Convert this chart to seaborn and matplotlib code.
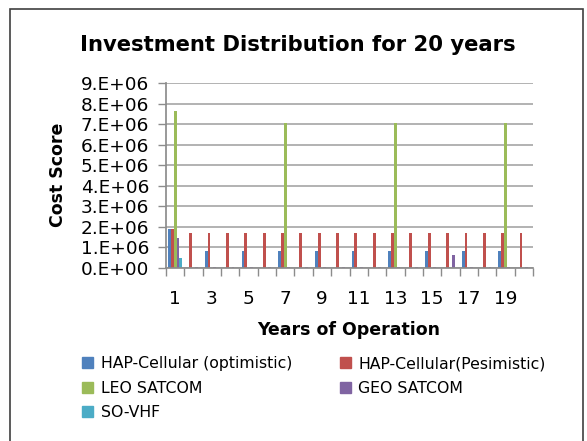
import matplotlib
matplotlib.use("Agg")
import matplotlib.pyplot as plt
import matplotlib.patches as mpatches
from matplotlib.ticker import FixedLocator, FuncFormatter
import seaborn as sns
import pandas as pd

years = list(range(1, 21))
series_names = ["HAP-Cellular (optimistic)", "HAP-Cellular(Pesimistic)",
                "LEO SATCOM", "GEO SATCOM", "SO-VHF"]
hap_opt = [1.9e6, 0, 0.83e6, 0, 0.83e6, 0, 0.83e6, 0, 0.83e6, 0,
           0.83e6, 0, 0.83e6, 0, 0.83e6, 0, 0.83e6, 0, 0.83e6, 0]
hap_pes = [1.9e6, 1.7e6, 1.7e6, 1.7e6, 1.7e6, 1.7e6, 1.7e6, 1.7e6, 1.7e6, 1.7e6,
           1.7e6, 1.7e6, 1.7e6, 1.7e6, 1.7e6, 1.7e6, 1.7e6, 1.7e6, 1.7e6, 1.7e6]
leo = [7.65e6, 0, 0, 0, 0, 0, 7.05e6, 0, 0, 0,
       0, 0, 7.05e6, 0, 0, 0, 0, 0, 7.05e6, 0]
geo = [1.48e6, 0.07e6, 0.07e6, 0.07e6, 0.07e6, 0.07e6, 0.07e6, 0.07e6, 0.07e6, 0.07e6,
       0.07e6, 0.07e6, 0.07e6, 0.07e6, 0.07e6, 0.63e6, 0.07e6, 0.07e6, 0.07e6, 0.07e6]
so_vhf = [0.47e6, 0, 0, 0, 0, 0, 0, 0, 0, 0,
          0, 0, 0, 0, 0, 0, 0, 0, 0, 0]
colors = ["#4F81BD", "#C0504D", "#9BBB59", "#8064A2", "#4BACC6"]
ytick_vals = [0, 1e6, 2e6, 3e6, 4e6, 5e6, 6e6, 7e6, 8e6, 9e6]

rows = []
for name, vals in zip(series_names, [hap_opt, hap_pes, leo, geo, so_vhf]):
    for y, v in zip(years, vals):
        rows.append({"Year": str(y), "Series": name, "Value": v})
df = pd.DataFrame(rows)

sns.set_theme(style="white")
plt.rcParams["font.family"] = ["DejaVu Sans"]
for k in ["text.color", "axes.labelcolor", "xtick.color", "ytick.color"]:
    plt.rcParams[k] = "black"

fig = plt.figure(figsize=(5.87, 4.41), dpi=100)
ax = fig.add_axes([166/587, 1-268/441, (533-166)/587, (268-83)/441])

sns.barplot(data=df, x="Year", y="Value", hue="Series", hue_order=series_names,
            order=[str(y) for y in years], palette=colors, width=0.77,
            saturation=1, ax=ax, legend=False, linewidth=0)

ax.set_ylim(0, 9e6)
ax.set_xlim(-0.5, 19.5)
ax.yaxis.set_major_locator(FixedLocator(ytick_vals))
ax.yaxis.set_major_formatter(FuncFormatter(
    lambda v, p: "0.E+00" if v == 0 else f"{int(round(v/1e6))}.E+06"))
ax.grid(axis="y", color="#A6A6A6", linewidth=1.2)
ax.set_axisbelow(True)
for s in ["top", "right"]:
    ax.spines[s].set_visible(False)
ax.spines["left"].set_color("#8C8C8C")
ax.spines["bottom"].set_color("#8C8C8C")
ax.tick_params(axis="y", which="major", length=6, color="#8C8C8C", width=1,
               labelsize=13.3, pad=6, left=True, labelcolor="black")

ax.set_xticks([i for i in range(0, 20, 2)])
ax.set_xticklabels([str(y) for y in years[::2]])
ax.set_xticks([i - 0.5 for i in range(21)], minor=True)
ax.tick_params(axis="x", which="major", length=0, labelsize=13.3, pad=16,
               labelcolor="black")
ax.tick_params(axis="x", which="minor", length=6, color="#8C8C8C", width=1, bottom=True)

ax.set_xlabel("")
ax.set_ylabel("")
fig.text(298/587, 1-45/441, "Investment Distribution for 20 years",
         ha="center", va="center", fontsize=15.2, fontweight="bold", color="black")
fig.text(58/587, 1-175/441, "Cost Score", rotation=90, ha="center", va="center",
         fontsize=12.5, fontweight="bold", color="black")
fig.text(349/587, 1-330/441, "Years of Operation", ha="center", va="center",
         fontsize=12.5, fontweight="bold", color="black")

handles = [mpatches.Patch(color=c, label=n) for c, n in zip(colors, series_names)]
order = [0, 2, 4, 1, 3]
fig.legend(handles=[handles[i] for i in order], ncol=2, loc="upper left",
           bbox_to_anchor=(76/587, 1-350/441), frameon=False, fontsize=11.3,
           handlelength=0.7, handleheight=0.7, handletextpad=0.5,
           columnspacing=3.0, labelspacing=0.6, borderaxespad=0)

border = mpatches.Rectangle((10/587, -0.05), (583-10)/587, (441+20-7)/441,
                            transform=fig.transFigure, fill=False,
                            edgecolor="#404040", linewidth=1.2)
fig.add_artist(border)

fig.savefig("out.png", dpi=100)
